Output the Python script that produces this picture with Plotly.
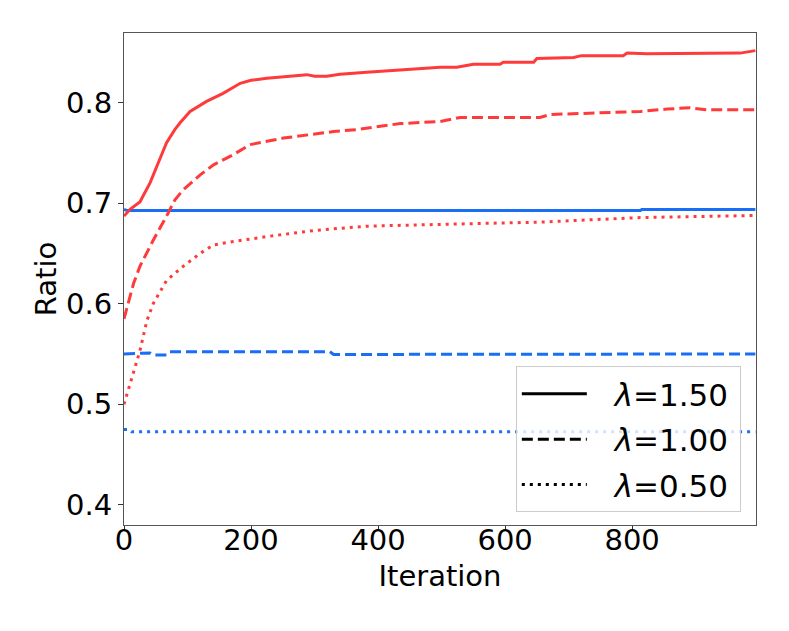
import plotly.graph_objects as go

# ---- data ----
red_solid_x = [0, 10, 25, 41, 54, 67, 80, 88, 104, 130, 156, 183, 200, 225, 288, 300, 319, 340, 382, 430, 498, 524, 550, 592, 597, 645, 650, 708, 720, 786, 792, 823, 970, 994]
red_solid_y = [0.687, 0.694, 0.701, 0.720, 0.740, 0.760, 0.773, 0.7795, 0.791, 0.801, 0.809, 0.819, 0.822, 0.824, 0.8276, 0.826, 0.826, 0.828, 0.830, 0.832, 0.835, 0.835, 0.838, 0.838, 0.840, 0.840, 0.8436, 0.8446, 0.8465, 0.8465, 0.849, 0.8485, 0.849, 0.8515]

red_dash_x = [0, 15, 25, 46, 67, 80, 93, 120, 141, 172, 198, 251, 330, 366, 435, 498, 529, 655, 671, 734, 813, 855, 891, 918, 994]
red_dash_y = [0.585, 0.620, 0.637, 0.663, 0.687, 0.703, 0.713, 0.728, 0.738, 0.748, 0.758, 0.7646, 0.771, 0.773, 0.779, 0.781, 0.785, 0.785, 0.788, 0.7895, 0.791, 0.7934, 0.7947, 0.7927, 0.7927]

red_dot_x = [0, 15, 25, 36, 46, 67, 93, 120, 141, 172, 225, 304, 382, 513, 655, 813, 994]
red_dot_y = [0.500, 0.533, 0.553, 0.583, 0.600, 0.623, 0.637, 0.650, 0.6584, 0.6617, 0.6667, 0.673, 0.677, 0.679, 0.681, 0.6856, 0.6876]

blue_solid_x = [0, 5, 813, 815, 994]
blue_solid_y = [0.6937, 0.6925, 0.6925, 0.6935, 0.6935]

blue_dash_x = [0, 25, 41, 46, 67, 72, 324, 330, 408, 414, 994]
blue_dash_y = [0.550, 0.551, 0.551, 0.549, 0.549, 0.5523, 0.5523, 0.5495, 0.5495, 0.550, 0.550]

blue_dot_x = [0, 8, 12, 994]
blue_dot_y = [0.475, 0.475, 0.4727, 0.4727]

legend_labels = ["<i>λ</i>=1.50", "<i>λ</i>=1.00", "<i>λ</i>=0.50"]
x_ticks = [0, 200, 400, 600, 800]
y_ticks = [0.4, 0.5, 0.6, 0.7, 0.8]

RED = "#ff3a3a"
BLUE = "#1a6ef5"
DASH = "11px,5px"
DOT = "3px,5px"
LW = 3

fig = go.Figure()
for xs, ys, col, dash in [
    (blue_solid_x, blue_solid_y, BLUE, "solid"),
    (blue_dash_x, blue_dash_y, BLUE, DASH),
    (blue_dot_x, blue_dot_y, BLUE, DOT),
    (red_solid_x, red_solid_y, RED, "solid"),
    (red_dash_x, red_dash_y, RED, DASH),
    (red_dot_x, red_dot_y, RED, DOT),
]:
    fig.add_trace(go.Scatter(x=xs, y=ys, mode="lines", showlegend=False,
                             line=dict(color=col, width=LW, dash=dash)))

for i, (lab, dash) in enumerate(zip(legend_labels, ["solid", DASH, DOT])):
    fig.add_trace(go.Scatter(x=[None], y=[None], mode="lines",
                             name="\u00a0\u00a0\u200a" + lab + "\u2009",
                             legendgroup=str(i),
                             line=dict(color="black", width=LW, dash=dash)))

axis_common = dict(showline=True, mirror=True, linecolor="#555", linewidth=1,
                   ticks="outside", ticklen=5, tickcolor="#333", showgrid=False,
                   zeroline=False, tickfont=dict(size=29, color="black"))

fig.update_layout(
    width=773, height=615,
    margin=dict(l=116, r=25, t=25, b=98),
    paper_bgcolor="white", plot_bgcolor="white",
    font=dict(family="DejaVu Sans", size=29, color="black"),
    xaxis=dict(range=[0, 995], tickvals=x_ticks, ticklabelstandoff=-16,
               title=dict(text="Iteration", font=dict(size=29), standoff=9), **axis_common),
    yaxis=dict(range=[0.380, 0.869], tickvals=y_ticks, tickformat=".1f",
               title=dict(text="Ratio", font=dict(size=29), standoff=0), **axis_common),
    legend=dict(x=0.976, y=0.026, xanchor="right", yanchor="bottom",
                bgcolor="rgba(255,255,255,0.8)", bordercolor="#cccccc", borderwidth=1,
                font=dict(size=31), tracegroupgap=2, itemwidth=65),
)

fig.write_html("out.html")
